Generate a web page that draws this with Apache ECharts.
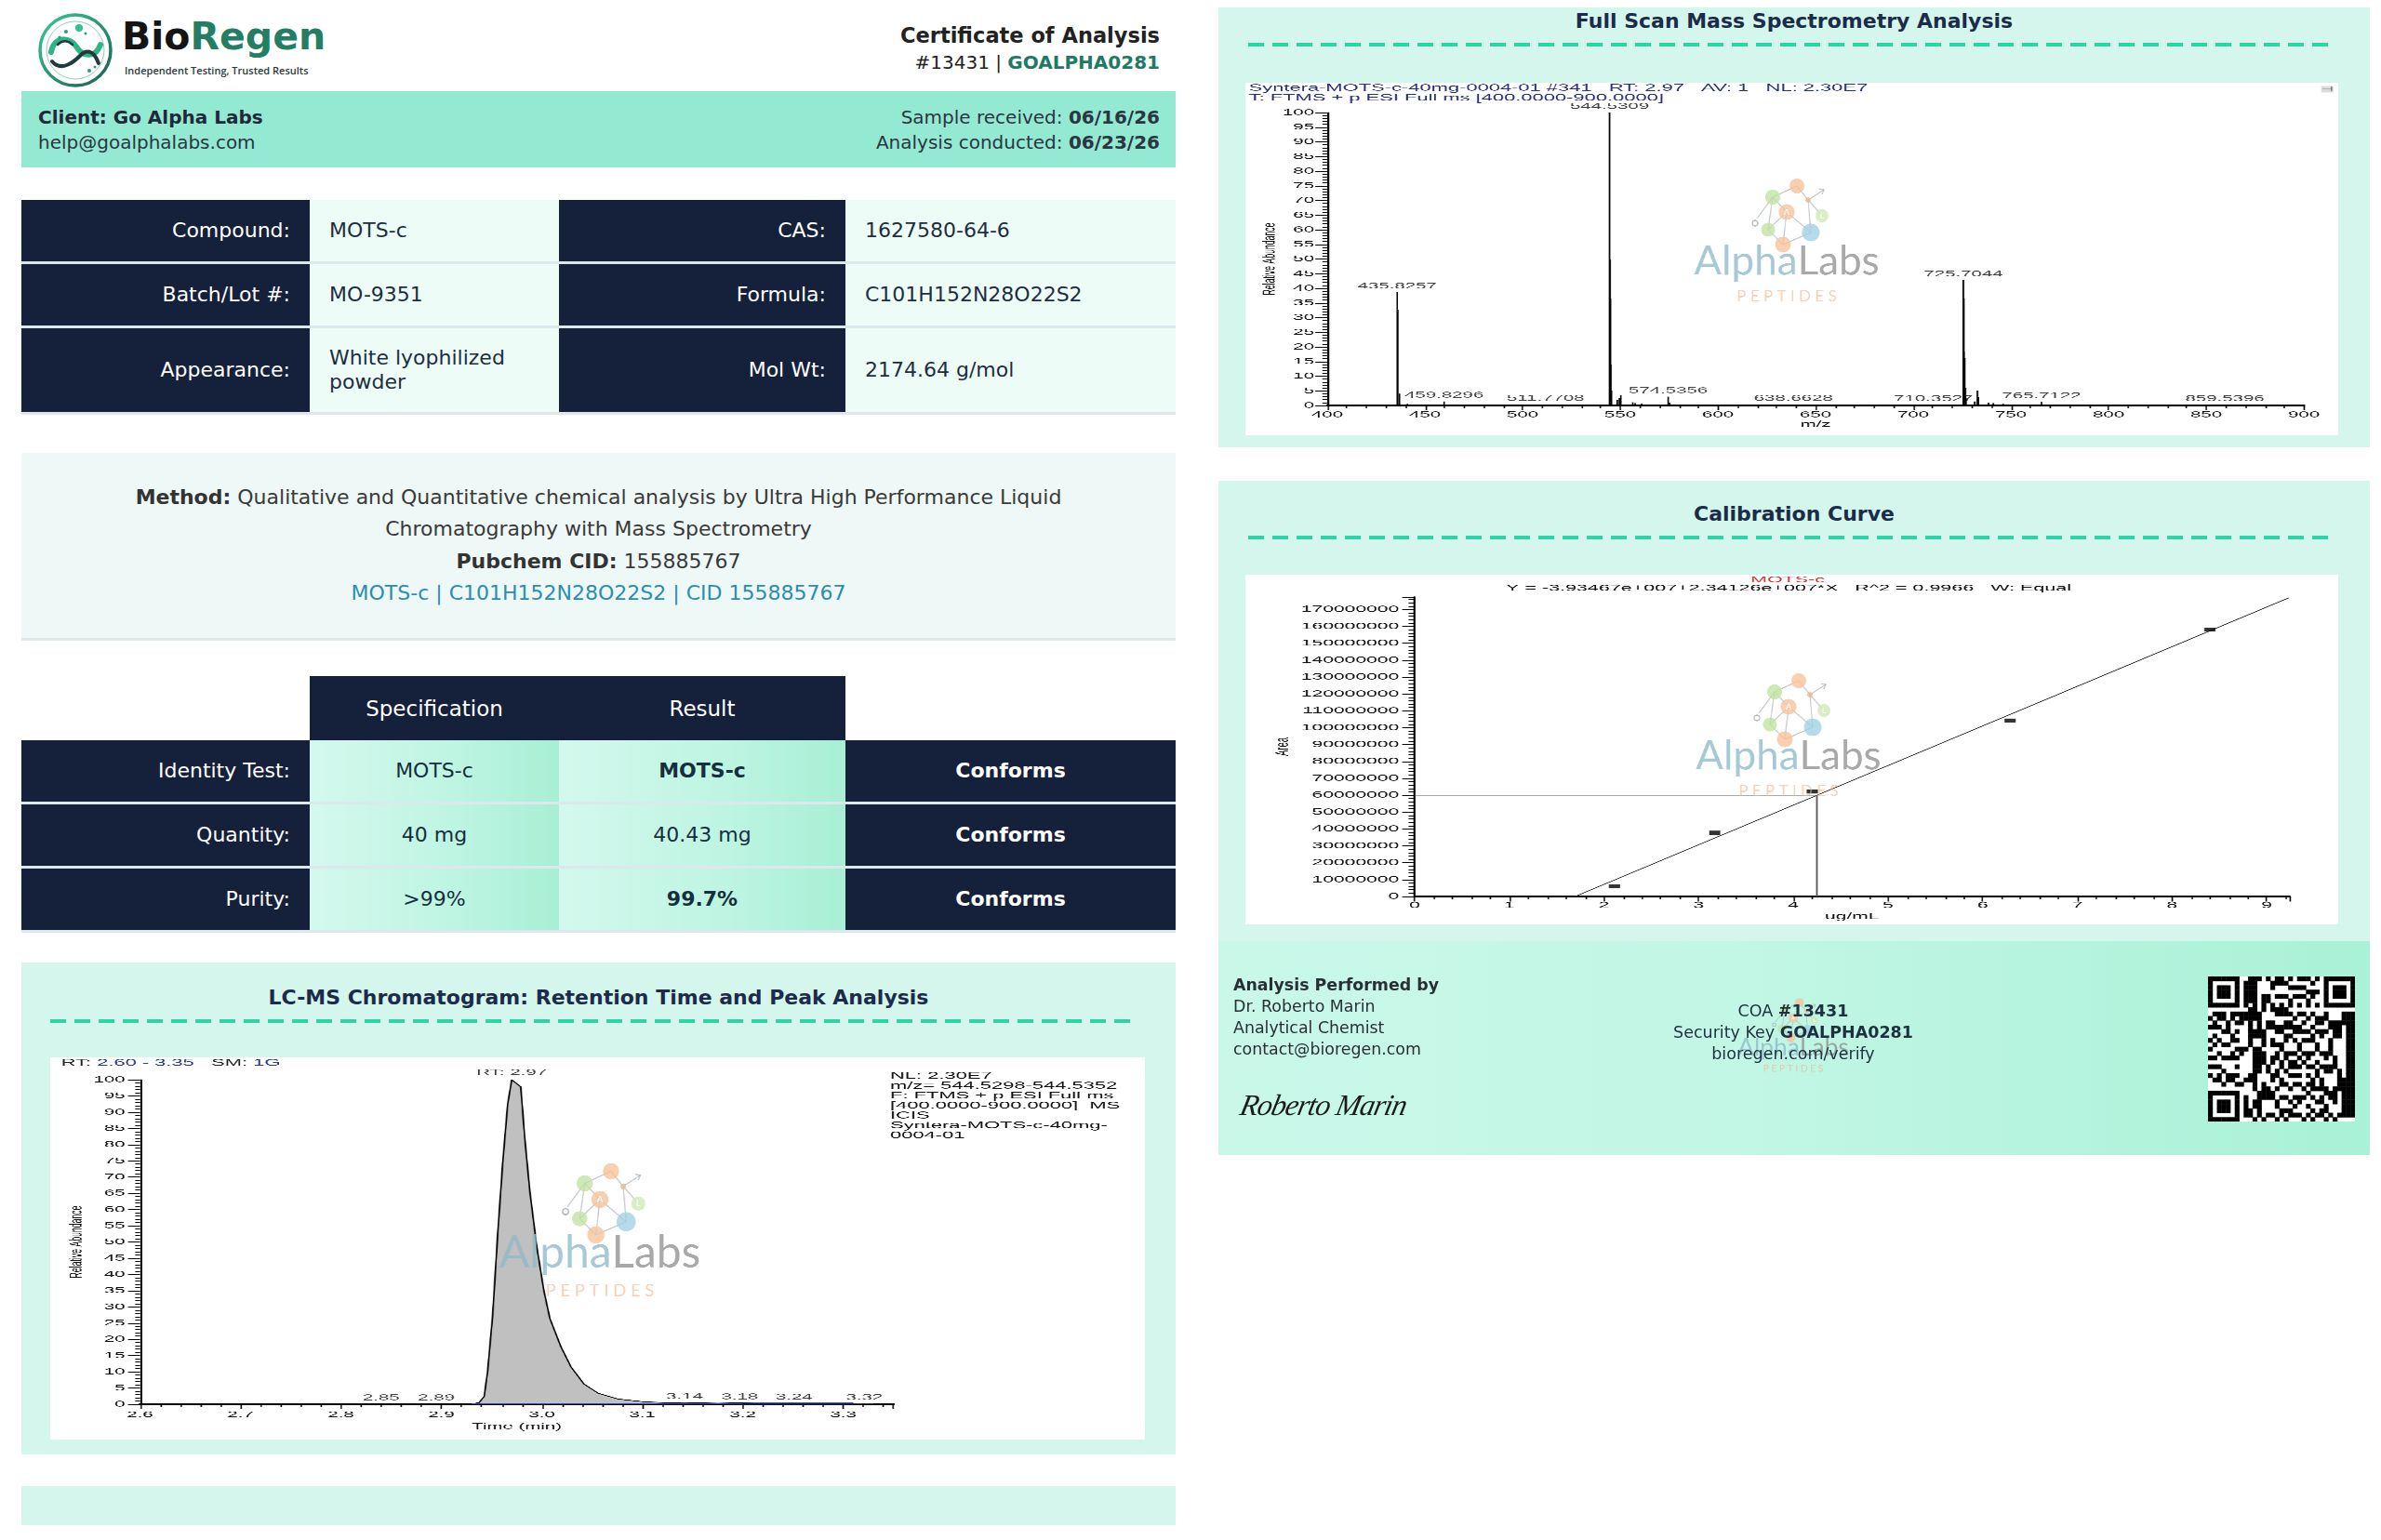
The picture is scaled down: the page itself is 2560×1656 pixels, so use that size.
<!DOCTYPE html>
<html><head><meta charset="utf-8"><title>Certificate of Analysis</title>
<script src="https://cdn.jsdelivr.net/npm/echarts/dist/echarts.min.js"></script>
<style>
html,body{margin:0;padding:0;background:#fff;}
body{width:2560px;height:1656px;position:relative;overflow:hidden;font-family:'DejaVu Sans',sans-serif;color:#222;}
.abs{position:absolute;white-space:nowrap;}
.cell{position:absolute;display:flex;align-items:center;box-sizing:border-box;font-size:22px;line-height:26px;border-bottom:3px solid #dde8ec;white-space:pre-line;}
.lab{background:#15203b;color:#fff;justify-content:flex-end;padding-right:21px;text-align:right;}
.val{background:#eefcf8;color:#1d2f3f;padding-left:21px;}
.grad{background:linear-gradient(90deg,#d4f8ed 0%,#bdf4e2 60%,#a7efd5 100%);color:#14303c;justify-content:center;}
.navc{background:#15203b;color:#fff;justify-content:center;}
.hdr{font-size:23px;}
.panel{position:absolute;background:#d5f6ec;}
.ptitle{position:absolute;left:0;right:0;text-align:center;font-weight:bold;font-size:22px;line-height:26px;color:#1b2c4a;}
.dash{position:absolute;height:4px;background:repeating-linear-gradient(90deg,#2dd4a6 0 17px,rgba(0,0,0,0) 17px 26px);}
.chartbox{position:absolute;background:#fff;overflow:hidden;}
.chartin{position:absolute;left:0;top:0;transform-origin:0 0;}
</style></head>
<body>

<svg class="abs" style="left:38px;top:12px" width="86" height="84" viewBox="0 0 86 84">
 <defs><linearGradient id="lg" x1="0" y1="0" x2="1" y2="1"><stop offset="0" stop-color="#39c995"/><stop offset="1" stop-color="#1d5f55"/></linearGradient></defs>
 <circle cx="43" cy="42" r="38" fill="none" stroke="url(#lg)" stroke-width="3.5"/>
 <circle cx="43" cy="42" r="31" fill="none" stroke="#2c9c7c" stroke-width="1" opacity="0.5"/>
 <path d="M17 44 C 20 26, 38 28, 44 38 S 64 52, 70 36" fill="none" stroke="#2fb486" stroke-width="6" stroke-linecap="round"/>
 <path d="M18 54 C 28 66, 42 54, 48 48 S 62 40, 68 56" fill="none" stroke="#1f3d3c" stroke-width="4" stroke-linecap="round"/>
 <path d="M24 36 C 30 30, 36 32, 40 36" fill="none" stroke="#1f3d3c" stroke-width="2.5" stroke-linecap="round"/>
 <circle cx="47" cy="18" r="4" fill="#33c08e"/><circle cx="33" cy="22" r="2" fill="#2c9c7c"/><circle cx="26" cy="28" r="1.6" fill="#2c9c7c"/>
 <circle cx="58" cy="64" r="2" fill="#2c9c7c"/><circle cx="64" cy="60" r="1.5" fill="#2c9c7c"/><circle cx="54" cy="24" r="1.5" fill="#2c9c7c"/>
</svg>
<div class="abs" style="left:131px;top:19px;font:bold 41px/41px 'DejaVu Sans'"><span style="color:#141414">Bio</span><span style="color:#237e64">Regen</span></div>
<div class="abs" style="left:134px;top:69px;font:600 11px/14px 'Open Sans';color:#2b3a38">Independent Testing, Trusted Results</div>
<div class="abs" style="right:1313px;top:24px;font:bold 22.5px/28px 'DejaVu Sans';color:#222">Certificate of Analysis</div>
<div class="abs" style="right:1313px;top:55px;font:20px/24px 'DejaVu Sans';color:#222">#13431 | <b style="color:#1f7a64">GOALPHA0281</b></div>

<div class="abs" style="left:23px;top:98px;width:1241px;height:82px;background:#94e9d2">
 <div class="abs" style="left:18px;top:16px;font:bold 20px/24px 'DejaVu Sans';color:#1e2a38">Client: Go Alpha Labs</div>
 <div class="abs" style="left:18px;top:43px;font:20px/24px 'DejaVu Sans';color:#2a3642">help@goalphalabs.com</div>
 <div class="abs" style="right:17px;top:16px;font:20px/24px 'DejaVu Sans';color:#2a3642">Sample received: <b>06/16/26</b></div>
 <div class="abs" style="right:17px;top:43px;font:20px/24px 'DejaVu Sans';color:#2a3642">Analysis conducted: <b>06/23/26</b></div>
</div>

<div id="infoTable"></div>

<div class="abs" style="left:23px;top:487px;width:1241px;height:202px;background:#eef8f6;border-bottom:3px solid #e0e9ea;box-sizing:border-box"></div>
<div class="abs" style="left:23px;top:518px;width:1241px;text-align:center;font:22px/34.3px 'DejaVu Sans';color:#3a3a3a">
 <div><b style="color:#333">Method:</b> Qualitative and Quantitative chemical analysis by Ultra High Performance Liquid</div>
 <div>Chromatography with Mass Spectrometry</div>
 <div><b style="color:#333">Pubchem CID:</b> 155885767</div>
 <div style="color:#2b8db0">MOTS-c | C101H152N28O22S2 | CID 155885767</div>
</div>

<div id="resultTable"></div>

<div class="panel" style="left:23px;top:1035px;width:1241px;height:529px">
 <div class="ptitle" style="top:25px">LC-MS Chromatogram: Retention Time and Peak Analysis</div>
</div>
<div class="dash" style="left:54px;top:1096px;width:1167px"></div>
<div class="chartbox" id="chromBox"><div class="chartin" id="chromChart"></div></div>
<div class="panel" style="left:23px;top:1598px;width:1241px;height:42px"></div>

<div class="panel" style="left:1310px;top:8px;width:1238px;height:473px">
 <div class="ptitle" style="top:2px">Full Scan Mass Spectrometry Analysis</div>
</div>
<div class="dash" style="left:1342px;top:46px;width:1167px"></div>
<div class="chartbox" id="msBox"><div class="chartin" id="msChart"></div></div>

<div class="panel" style="left:1310px;top:517px;width:1238px;height:495px">
 <div class="ptitle" style="top:23px">Calibration Curve</div>
</div>
<div class="dash" style="left:1342px;top:576px;width:1167px"></div>
<div class="chartbox" id="calBox"><div class="chartin" id="calChart"></div></div>

<div class="abs" style="left:1310px;top:1012px;width:1238px;height:230px;background:linear-gradient(90deg,#c9f8e9 0%,#c2f6e5 45%,#a9f1d7 100%)"></div>
<div class="abs" id="sigWm" style="left:1310px;top:1012px;width:1238px;height:230px"></div>
<div class="abs" style="left:1326px;top:1048px;font:17.4px/23px 'DejaVu Sans';color:#2a2f36">
 <div style="font-weight:bold">Analysis Performed by</div>
 <div>Dr. Roberto Marin</div>
 <div>Analytical Chemist</div>
 <div>contact@bioregen.com</div>
</div>
<div class="abs" style="left:1334px;top:1166px;font:italic 32px/44px 'Liberation Serif';color:#1c1c1c;transform:skewX(-12deg);letter-spacing:-1px">Roberto Marin</div>
<div class="abs" style="left:1628px;top:1076px;width:600px;text-align:center;font:17.5px/23px 'DejaVu Sans';color:#1e3040">
 <div>COA <b>#13431</b></div>
 <div>Security Key <b>GOALPHA0281</b></div>
 <div>bioregen.com/verify</div>
</div>
<canvas class="abs" id="qr" width="158" height="156" style="left:2374px;top:1050px"></canvas>

<script>
// ---------- document data ----------
const infoLabelsLeft = ['Compound:', 'Batch/Lot #:', 'Appearance:'];
const infoValuesLeft = ['MOTS-c', 'MO-9351', 'White lyophilized\npowder'];
const infoLabelsRight = ['CAS:', 'Formula:', 'Mol Wt:'];
const infoValuesRight = ['1627580-64-6', 'C101H152N28O22S2', '2174.64 g/mol'];
const resultHeaders = ['Specification', 'Result'];
const resultLabels = ['Identity Test:', 'Quantity:', 'Purity:'];
const resultSpecs = ['MOTS-c', '40 mg', '>99%'];
const resultValues = ['MOTS-c', '40.43 mg', '99.7%'];
const resultBold = [true, false, true];
const resultStatus = ['Conforms', 'Conforms', 'Conforms'];

// ---------- mass spectrum data (m/z, relative abundance %) ----------
const msMz = [435.83, 436.08, 437.0, 441.0, 447.5, 459.83, 462.0, 470.0, 478.0, 490.0, 498.0, 511.77, 520.0, 528.0, 536.0,
  544.53, 544.78, 545.03, 545.28, 545.53, 548.5, 549.6, 550.3, 556.4, 557.6, 561.0, 565.0, 574.54, 575.3, 580.0,
  590.0, 603.0, 615.0, 627.0, 638.66, 648.0, 661.0, 675.0, 690.0, 700.0, 710.35,
  725.70, 725.95, 726.04, 726.37, 726.71, 727.04, 731.5, 732.9, 733.4, 738.5, 741.0, 746.0, 755.0, 765.71,
  778.0, 790.0, 805.0, 820.0, 840.0, 859.54, 875.0, 890.0];
const msAbundance = [38.7, 32.8, 4.0, 0.5, 0.4, 1.4, 0.3, 0.3, 0.2, 0.3, 0.2, 0.4, 0.3, 0.2, 0.3,
  100, 49.7, 36.5, 14.0, 5.0, 1.9, 2.6, 3.5, 1.1, 0.8, 0.6, 0.4, 3.0, 1.0, 0.3,
  0.2, 0.2, 0.2, 0.2, 0.4, 0.2, 0.2, 0.2, 0.2, 0.2, 0.3,
  42.8, 36.5, 18.4, 16.3, 6.0, 2.5, 1.4, 5.1, 2.8, 0.9, 0.8, 0.5, 0.3, 1.2,
  0.2, 0.2, 0.2, 0.2, 0.2, 0.3, 0.2, 0.2];
const msLabelMz = [435.8257, 459.8296, 511.7708, 544.5309, 574.5356, 638.6628, 710.3527, 725.7044, 765.7122, 859.5396];
const msLabelAbundance = [38.7, 1.4, 0.4, 100, 3.0, 0.4, 0.3, 42.8, 1.2, 0.3];
const msXTicks = {min: 400, max: 900, step: 50};
const msHeader1 = 'Syntera-MOTS-c-40mg-0004-01 #341   RT: 2.97   AV: 1   NL: 2.30E7';
const msHeader2 = 'T: FTMS + p ESI Full ms [400.0000-900.0000]';

// ---------- chromatogram data (time min, relative abundance %) ----------
const chromTime = [2.600, 2.700, 2.800, 2.835, 2.840, 2.845, 2.880, 2.895, 2.905, 2.929, 2.9375, 2.9426, 2.946, 2.951, 2.956,
  2.961, 2.966, 2.970, 2.974, 2.979, 2.983, 2.988, 2.995, 3.002, 3.008, 3.019, 3.029, 3.042, 3.056, 3.076,
  3.103, 3.130, 3.142, 3.155, 3.175, 3.197, 3.210, 3.230, 3.251, 3.270, 3.300, 3.321, 3.350];
const chromAbundance = [0, 0, 0, 0, 0.15, 0, 0, 0.15, 0, 0, 0.5, 2.4, 10.1, 27.3, 52.2,
  74.2, 92.5, 100, 99.0, 97.8, 82.0, 65.7, 48.4, 35.0, 26.4, 17.7, 11.5, 6.2, 3.4, 1.6,
  0.7, 0.4, 0.55, 0.4, 0.3, 0.4, 0.3, 0.25, 0.3, 0.2, 0.2, 0.25, 0.15];
const chromApexTime = 2.97, chromApexAbundance = 100;
const chromLabelTime = [2.840, 2.895, 3.142, 3.197, 3.251, 3.321];
const chromLabelAbundance = [0.15, 0.15, 0.55, 0.4, 0.3, 0.25];
const chromLabelText = ['2.85', '2.89', '3.14', '3.18', '3.24', '3.32'];
const chromBaselineBlue = [2.93, 3.20];
const chromBaselineNavy = [3.20, 3.31];
const chromXTicks = {min: 2.6, max: 3.35, step: 0.1};
const chromInfo = ['NL: 2.30E7', 'm/z= 544.5298-544.5352', 'F: FTMS + p ESI Full ms', '[400.0000-900.0000]  MS', 'ICIS', 'Syntera-MOTS-c-40mg-', '0004-01'];

// ---------- calibration data (ug/mL, area) ----------
const calConc = [2.11, 3.17, 4.20, 6.29, 8.40];
const calArea = [6030000, 37660000, 62160000, 104200000, 158100000];
const calFitConc = [1.695, 9.238];
const calFitArea = [0, 177000000];
const calSampleConc = 4.249, calSampleArea = 60000000;
const calXTicks = {min: 0, max: 9.24, step: 1};
const calYTicks = {min: 0, max: 177500000, step: 10000000, lastLabel: 170000000};
const calTitle = 'MOTS-c';
const calEquation = 'Y = -3.93467e+007+2.34126e+007*X   R^2 = 0.9966   W: Equal';

// ---------- build tables ----------
function addCell(parent, x1, x2, y1, y2, cls, html) {
  const d = document.createElement('div');
  d.className = 'cell ' + cls;
  d.style.left = x1 + 'px'; d.style.top = y1 + 'px';
  d.style.width = (x2 - x1) + 'px'; d.style.height = (y2 - y1) + 'px';
  d.innerHTML = html;
  parent.appendChild(d);
  return d;
}
const esc = s => s.replace(/&/g,'&amp;').replace(/</g,'&lt;').replace(/>/g,'&gt;');
const cols = [23, 333, 601, 909, 1264];
const infoRows = [215, 284, 353, 446];
const infoT = document.getElementById('infoTable');
for (let i = 0; i < 3; i++) {
  addCell(infoT, cols[0], cols[1], infoRows[i], infoRows[i+1], 'lab', esc(infoLabelsLeft[i]));
  addCell(infoT, cols[1], cols[2], infoRows[i], infoRows[i+1], 'val', esc(infoValuesLeft[i]));
  addCell(infoT, cols[2], cols[3], infoRows[i], infoRows[i+1], 'lab', esc(infoLabelsRight[i]));
  addCell(infoT, cols[3], cols[4], infoRows[i], infoRows[i+1], 'val', esc(infoValuesRight[i]));
}
const resT = document.getElementById('resultTable');
addCell(resT, cols[1], cols[2], 727, 796, 'navc hdr', esc(resultHeaders[0])).style.borderBottom = '0';
addCell(resT, cols[2], cols[3], 727, 796, 'navc hdr', esc(resultHeaders[1])).style.borderBottom = '0';
const resRows = [796, 865, 934, 1003];
for (let i = 0; i < 3; i++) {
  addCell(resT, cols[0], cols[1], resRows[i], resRows[i+1], 'lab', esc(resultLabels[i]));
  addCell(resT, cols[1], cols[2], resRows[i], resRows[i+1], 'grad', esc(resultSpecs[i]));
  addCell(resT, cols[2], cols[3], resRows[i], resRows[i+1], 'grad', resultBold[i] ? '<b>' + esc(resultValues[i]) + '</b>' : esc(resultValues[i]));
  addCell(resT, cols[3], cols[4], resRows[i], resRows[i+1], 'navc', '<b>' + esc(resultStatus[i]) + '</b>');
}

// ---------- QR-like code (decorative) ----------
(function () {
  const c = document.getElementById('qr'), ctx = c.getContext('2d');
  const n = 33, mw = 158 / n, mh = 156 / n;
  ctx.fillStyle = '#fff'; ctx.fillRect(0, 0, 158, 156); ctx.fillStyle = '#000';
  const box = (x, y) => ctx.fillRect(x * mw, y * mh, mw + 0.4, mh + 0.4);
  const finder = (ox, oy) => { for (let y = 0; y < 7; y++) for (let x = 0; x < 7; x++) { const d = Math.max(Math.abs(x - 3), Math.abs(y - 3)); if (d !== 2) box(ox + x, oy + y); } };
  finder(0, 0); finder(n - 7, 0); finder(0, n - 7);
  const inF = (x, y) => (x < 8 && y < 8) || (x >= n - 8 && y < 8) || (x < 8 && y >= n - 8);
  for (let y = 0; y < n; y++) for (let x = 0; x < n; x++) {
    if (inF(x, y)) continue;
    if (x === 6 || y === 6) { if ((x + y) % 2 === 0) box(x, y); continue; }
    if (((x * x * 7 + y * 13 + x * y * 5 + (x ^ y) * 3) % 11) < 5) box(x, y);
  }
})();

// ---------- charts ----------
const S = 2.15;           // horizontal stretch of the instrument screenshots
const FONT = 'Liberation Sans';
const TXT = '10.2px "Liberation Sans"';
function makeChart(boxId, innerId, x0, y0, w, h, stretch) {
  const box = document.getElementById(boxId);
  Object.assign(box.style, {left: x0 + 'px', top: y0 + 'px', width: w + 'px', height: h + 'px'});
  const inner = document.getElementById(innerId);
  Object.assign(inner.style, {width: (w / stretch) + 'px', height: h + 'px', transform: 'scaleX(' + stretch + ')'});
  return echarts.init(inner, null, {renderer: 'canvas', devicePixelRatio: 3});
}
function watermark(x, y, k, sx) {
  const Z = 100;
  const nodes = [[11,5,8,'#f6c39b',''],[-15,17,8,'#c2e2a4',''],[0,33,8.5,'#f6c39b','A'],[23,20,3,'#f0b98e',''],
    [38,37,7,'#d0eab6','L'],[-20,52,7.5,'#c2e2a4',''],[26,55,9.5,'#a3d2e4',''],[-4,68,8.5,'#f6c39b','']];
  const edges = [[0,1],[0,3],[1,2],[2,6],[6,7],[7,5],[5,2],[3,4],[2,7],[6,3],[1,5]];
  const ch = [];
  const ls = {stroke:'rgba(150,160,170,0.55)', lineWidth:1.2};
  edges.forEach(e => ch.push({type:'line', z:Z, shape:{x1:nodes[e[0]][0], y1:nodes[e[0]][1], x2:nodes[e[1]][0], y2:nodes[e[1]][1]}, style:ls}));
  ch.push({type:'line', z:Z, shape:{x1:23, y1:20, x2:40, y2:9}, style:ls});
  ch.push({type:'polyline', z:Z, shape:{points:[[35,8],[40,9],[38,14]]}, style:{stroke:'rgba(150,160,170,0.6)', lineWidth:1.2, fill:null}});
  ch.push({type:'line', z:Z, shape:{x1:-15, y1:17, x2:-32, y2:40}, style:ls});
  ch.push({type:'circle', z:Z, shape:{cx:-34, cy:45, r:3}, style:{stroke:'rgba(150,160,170,0.7)', lineWidth:1.4, fill:'rgba(255,255,255,0)'}});
  nodes.forEach(nd => {
    ch.push({type:'circle', z:Z, shape:{cx:nd[0], cy:nd[1], r:nd[2]}, style:{fill:nd[3], opacity:0.8}});
    if (nd[4]) ch.push({type:'text', z:Z + 1, style:{text:nd[4], x:nd[0], y:nd[1], fill:'rgba(255,255,255,0.9)', font:'bold 9px Lato', align:'center', verticalAlign:'middle', textAlign:'center', textVerticalAlign:'middle'}});
  });
  ch.push({type:'text', z:Z, style:{text:'{a|Alpha}{b|Labs}', x:0, y:86, align:'center', verticalAlign:'middle', textAlign:'center', textVerticalAlign:'middle',
    font:'44px Lato', rich:{a:{fill:'rgba(142,186,202,0.78)', font:'44px Lato'}, b:{fill:'rgba(140,140,140,0.75)', font:'44px Lato'}}}});
  ch.push({type:'text', z:Z, style:{text:'P E P T I D E S', x:0, y:123.5, align:'center', verticalAlign:'middle', textAlign:'center', textVerticalAlign:'middle',
    font:'17px Lato', fill:'rgba(238,178,135,0.6)'}});
  return {type:'group', x:x, y:y, scaleX:k * sx, scaleY:k, z:Z, silent:true, children:ch};
}
function axisCommon(extra) {
  return Object.assign({
    type:'value',
    axisLine:{show:true, onZero:false, lineStyle:{color:'#000', width:1}},
    axisTick:{show:true, lineStyle:{color:'#000', width:0.8}},
    minorTick:{show:true, splitNumber:5, lineStyle:{color:'#000', width:0.8}},
    splitLine:{show:false}, minorSplitLine:{show:false},
    axisLabel:{fontSize:9.5, color:'#111', fontFamily:FONT},
    nameMoveOverlap:false,
    nameTextStyle:{fontSize:8.7, color:'#111', fontFamily:FONT}
  }, extra);
}
const isStep = (v, step) => Math.abs(v / step - Math.round(v / step)) < 1e-6;

// Mass spectrum
const ms = makeChart('msBox', 'msChart', 1339, 89, 1175, 379, S);
ms.setOption({
  animation:false, textStyle:{fontFamily:FONT},
  grid:{left:40.93, right:17.67, top:32, bottom:32, containLabel:false, outerBoundsMode:'none'},
  xAxis: axisCommon({min:msXTicks.min, max:msXTicks.max, interval:msXTicks.step,
    axisLine:{show:true, onZero:false, lineStyle:{color:'#000', width:1.5}},
    axisTick:{length:5, lineStyle:{color:'#000', width:0.7}}, minorTick:{show:true, splitNumber:5, length:3, lineStyle:{color:'#000', width:0.7}},
    axisLabel:{fontSize:9.5, color:'#111', margin:5, fontFamily:FONT},
    name:'m/z', nameLocation:'middle', nameGap:15.5, nameTextStyle:{fontSize:9.5, color:'#111', fontFamily:FONT}}),
  yAxis: axisCommon({min:0, max:100, interval:5,
    axisTick:{length:6, lineStyle:{color:'#000', width:1}}, minorTick:{show:true, splitNumber:5, length:2.4, lineStyle:{color:'#000', width:1}},
    axisLabel:{fontSize:9.5, color:'#111', margin:6.5, fontFamily:FONT},
    name:'Relative Abundance', nameLocation:'middle', nameGap:24}),
  graphic:[
    {type:'text', style:{text:msHeader1, x:1.7, y:5.7, fill:'#262f80', font:TXT, verticalAlign:'middle', textVerticalAlign:'middle'}},
    {type:'text', style:{text:msHeader2, x:1.7, y:16.5, fill:'#262f80', font:TXT, verticalAlign:'middle', textVerticalAlign:'middle'}},
    {type:'rect', shape:{x:538, y:3.5, width:6, height:7}, style:{fill:'#dcdcdc'}},
    {type:'text', style:{text:'⊣', x:541, y:7, fill:'#444', font:'7px "DejaVu Sans"', align:'center', verticalAlign:'middle', textAlign:'center', textVerticalAlign:'middle'}},
    watermark((1921 - 1339) / S, 195 - 89, 1, 1 / S)
  ],
  series:[
    {type:'custom', coordinateSystem:'cartesian2d', silent:true, z:3,
     data: msMz.map((m, i) => [m, msAbundance[i]]), encode:{x:0, y:1},
     renderItem:(p, api) => { const a = api.coord([api.value(0), api.value(1)]); const b = api.coord([api.value(0), 0]);
       return {type:'line', shape:{x1:a[0], y1:a[1], x2:b[0], y2:b[1]}, style:{stroke:'#000', lineWidth:0.8}}; }},
    {type:'scatter', silent:true, z:4, symbolSize:1, itemStyle:{color:'rgba(0,0,0,0)'},
     data: msLabelMz.map((m, i) => [m, msLabelAbundance[i]]),
     label:{show:true, position:'top', distance:1, fontSize:9.5, color:'#111', fontFamily:FONT, formatter:p => p.value[0].toFixed(4)}}
  ]
});

// Chromatogram
const chrom = makeChart('chromBox', 'chromChart', 54, 1137, 1177, 411, S);
chrom.setOption({
  animation:false, textStyle:{fontFamily:FONT},
  grid:{left:44.88, right:125.3, top:24, bottom:38, containLabel:false, outerBoundsMode:'none'},
  xAxis: axisCommon({min:chromXTicks.min, max:chromXTicks.max, interval:chromXTicks.step,
    axisLine:{show:true, onZero:false, lineStyle:{color:'#000', width:1.5}},
    axisTick:{length:5, lineStyle:{color:'#000', width:0.7}}, minorTick:{show:true, splitNumber:5, length:3, lineStyle:{color:'#000', width:0.7}},
    axisLabel:{fontSize:9.5, color:'#111', margin:6.5, fontFamily:FONT, formatter:v => isStep(v, chromXTicks.step) ? v.toFixed(1) : ''},
    name:'Time (min)', nameLocation:'middle', nameGap:19, nameTextStyle:{fontSize:9.5, color:'#111', fontFamily:FONT}}),
  yAxis: axisCommon({min:0, max:100, interval:5,
    axisTick:{length:6, lineStyle:{color:'#000', width:1}}, minorTick:{show:true, splitNumber:5, length:2.4, lineStyle:{color:'#000', width:1}},
    axisLabel:{fontSize:9.5, color:'#111', margin:7.4, fontFamily:FONT},
    name:'Relative Abundance', nameLocation:'middle', nameGap:27}),
  graphic:[
    {type:'text', style:{text:'{k|RT:} {v|2.60 - 3.35}   {k|SM:} {v|1G}', x:5.4, y:6.3, verticalAlign:'middle', textVerticalAlign:'middle', font:TXT,
      rich:{k:{fill:'#222', font:TXT}, v:{fill:'#2d3a8c', font:TXT}}}},
    {type:'text', style:{text:chromInfo.join('\n'), x:420, y:14.7, fill:'#111', font:TXT, lineHeight:10.67, verticalAlign:'top', textVerticalAlign:'top'}},
    watermark((645 - 54) / S, 1254 - 1137, 1.086, 1 / S)
  ],
  series:[
    {type:'line', silent:true, z:2, symbol:'none', showSymbol:false,
     data: chromTime.map((t, i) => [t, chromAbundance[i]]),
     lineStyle:{color:'#000', width:0.8}, areaStyle:{color:'#c0c0c0', opacity:1}},
    {type:'line', silent:true, z:3, symbol:'none', data: chromBaselineBlue.map(t => [t, 0.1]), lineStyle:{color:'#3a44b0', width:0.8}},
    {type:'line', silent:true, z:3, symbol:'none', data: chromBaselineNavy.map(t => [t, 0.15]), lineStyle:{color:'#141a5a', width:2.2}},
    {type:'scatter', silent:true, z:4, symbolSize:1, itemStyle:{color:'rgba(0,0,0,0)'},
     data:[[chromApexTime, chromApexAbundance]],
     label:{show:true, position:'top', distance:2, fontSize:9.5, color:'#111', fontFamily:FONT, formatter:p => 'RT: ' + p.value[0].toFixed(2)}},
    {type:'scatter', silent:true, z:4, symbolSize:1, itemStyle:{color:'rgba(0,0,0,0)'},
     data: chromLabelTime.map((t, i) => [t, chromLabelAbundance[i]]),
     label:{show:true, position:'top', distance:1, fontSize:9.5, color:'#111', fontFamily:FONT, formatter:p => chromLabelText[p.dataIndex]}}
  ]
});

// Calibration curve
const cal = makeChart('calBox', 'calChart', 1339, 618, 1175, 376, S);
cal.setOption({
  animation:false, textStyle:{fontFamily:FONT},
  grid:{left:84.65, right:24.93, top:23.8, bottom:30, containLabel:false, outerBoundsMode:'none'},
  xAxis: axisCommon({min:calXTicks.min, max:calXTicks.max, interval:calXTicks.step,
    axisLine:{show:true, onZero:false, lineStyle:{color:'#000', width:1.5}},
    axisTick:{length:5.5, lineStyle:{color:'#000', width:0.7}}, minorTick:{show:true, splitNumber:5, length:3, lineStyle:{color:'#000', width:0.7}},
    axisLabel:{fontSize:9.8, color:'#111', margin:4.5, fontFamily:FONT, formatter:v => isStep(v, calXTicks.step) ? String(Math.round(v)) : ''},
    name:'ug/mL', nameLocation:'middle', nameGap:16.5, nameTextStyle:{fontSize:9.8, color:'#111', fontFamily:FONT}}),
  yAxis: axisCommon({min:calYTicks.min, max:calYTicks.max, interval:calYTicks.step,
    axisTick:{length:6.2, lineStyle:{color:'#000', width:1}}, minorTick:{show:true, splitNumber:5, length:3.1, lineStyle:{color:'#000', width:1}},
    axisLabel:{fontSize:9.8, color:'#111', margin:7.8, fontFamily:FONT,
      formatter:v => (isStep(v, calYTicks.step) && v <= calYTicks.lastLabel) ? String(Math.round(v)) : ''},
    name:'Area', nameLocation:'middle', nameGap:61, nameTextStyle:{fontSize:9.5, color:'#111', fontFamily:FONT}}),
  graphic:[
    {type:'text', style:{text:calTitle, x:(1922 - 1339) / S, y:5.5, fill:'#d23a3a', font:'10px "Liberation Sans"', align:'center', verticalAlign:'middle', textAlign:'center', textVerticalAlign:'middle'}},
    {type:'text', style:{text:calEquation, x:(1923 - 1339) / S, y:14.5, fill:'#111', font:'10px "Liberation Sans"', align:'center', verticalAlign:'middle', textAlign:'center', textVerticalAlign:'middle'}},
    watermark((1923 - 1339) / S, 727 - 618, 1, 1 / S)
  ],
  series:[
    {type:'line', silent:true, z:2, symbol:'none', data: calFitConc.map((c, i) => [c, calFitArea[i]]), lineStyle:{color:'#333', width:0.7}},
    {type:'line', silent:true, z:2, symbol:'none', data: [[0, calSampleArea], [calSampleConc, calSampleArea], [calSampleConc, 0]], lineStyle:{color:'#555', width:0.8}},
    {type:'scatter', silent:true, z:3, symbol:'rect', symbolSize:[12 / S, 4.5], itemStyle:{color:'#000'},
     data: calConc.map((c, i) => [c, calArea[i]])}
  ]
});

// watermark in the signature block
const sigWm = echarts.init(document.getElementById('sigWm'), null, {renderer:'canvas', devicePixelRatio:2});
sigWm.setOption({animation:false, graphic:[watermark(1928 - 1310, 1075 - 1012, 0.6, 1)]});
</script>
</body></html>
